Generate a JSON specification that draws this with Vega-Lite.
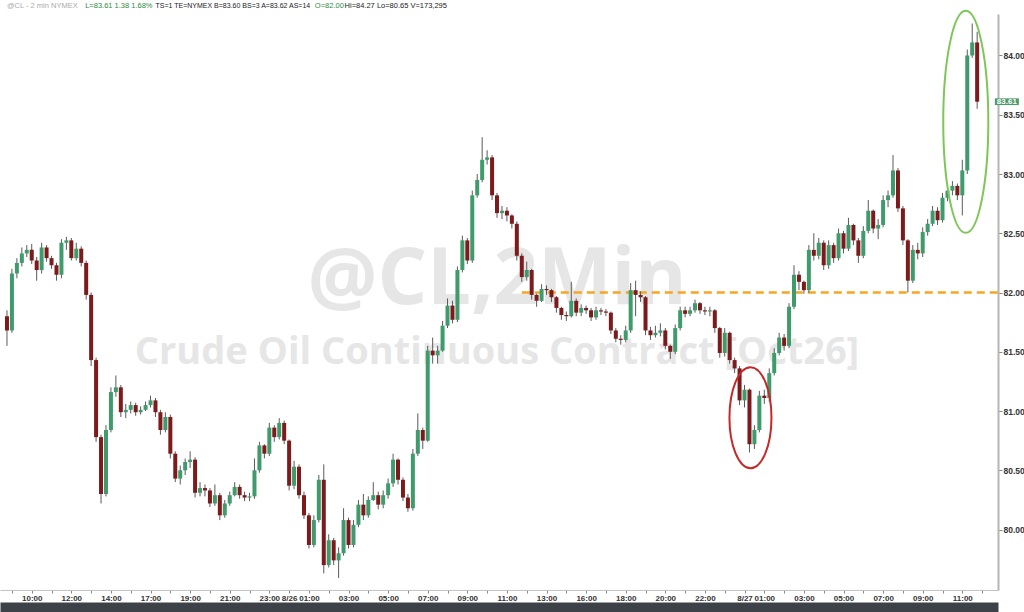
{
  "$schema": "https://vega.github.io/schema/vega-lite/v6.json",
  "width": 998,
  "height": 576,
  "autosize": {"type": "none"},
  "padding": {"left": 0, "top": 14, "right": 26, "bottom": 22},
  "background": "#ffffff",
  "config": {"view": {"stroke": null}, "font": "Liberation Sans"},
  "datasets": {
    "bars": [
      {"k":0,"o":81.80,"h":81.85,"l":81.55,"c":81.68},
      {"k":1,"o":81.68,"h":82.20,"l":81.66,"c":82.16},
      {"k":2,"o":82.16,"h":82.29,"l":82.12,"c":82.25},
      {"k":3,"o":82.25,"h":82.38,"l":82.22,"c":82.33},
      {"k":4,"o":82.33,"h":82.40,"l":82.30,"c":82.36},
      {"k":5,"o":82.36,"h":82.41,"l":82.24,"c":82.27},
      {"k":6,"o":82.27,"h":82.30,"l":82.10,"c":82.19},
      {"k":7,"o":82.19,"h":82.42,"l":82.16,"c":82.38},
      {"k":8,"o":82.38,"h":82.40,"l":82.26,"c":82.29},
      {"k":9,"o":82.29,"h":82.31,"l":82.20,"c":82.23},
      {"k":10,"o":82.23,"h":82.25,"l":82.10,"c":82.15},
      {"k":11,"o":82.15,"h":82.45,"l":82.12,"c":82.42},
      {"k":12,"o":82.42,"h":82.47,"l":82.36,"c":82.44},
      {"k":13,"o":82.44,"h":82.46,"l":82.27,"c":82.29},
      {"k":14,"o":82.29,"h":82.42,"l":82.27,"c":82.37},
      {"k":15,"o":82.37,"h":82.39,"l":82.22,"c":82.25},
      {"k":16,"o":82.25,"h":82.27,"l":81.94,"c":81.98},
      {"k":17,"o":81.98,"h":82.00,"l":81.38,"c":81.43},
      {"k":18,"o":81.43,"h":81.45,"l":80.74,"c":80.78},
      {"k":19,"o":80.78,"h":80.80,"l":80.22,"c":80.30},
      {"k":20,"o":80.30,"h":80.88,"l":80.28,"c":80.84},
      {"k":21,"o":80.84,"h":81.20,"l":80.82,"c":81.16},
      {"k":22,"o":81.16,"h":81.30,"l":81.12,"c":81.20},
      {"k":23,"o":81.20,"h":81.22,"l":80.95,"c":80.99},
      {"k":24,"o":80.99,"h":81.06,"l":80.94,"c":81.01},
      {"k":25,"o":81.01,"h":81.08,"l":80.98,"c":81.05},
      {"k":26,"o":81.05,"h":81.07,"l":80.96,"c":80.99},
      {"k":27,"o":80.99,"h":81.04,"l":80.97,"c":81.01},
      {"k":28,"o":81.01,"h":81.08,"l":81.00,"c":81.05},
      {"k":29,"o":81.05,"h":81.13,"l":81.03,"c":81.09},
      {"k":30,"o":81.09,"h":81.11,"l":80.95,"c":80.99},
      {"k":31,"o":80.99,"h":81.01,"l":80.80,"c":80.84},
      {"k":32,"o":80.84,"h":80.99,"l":80.82,"c":80.95},
      {"k":33,"o":80.95,"h":80.97,"l":80.60,"c":80.64},
      {"k":34,"o":80.64,"h":80.66,"l":80.40,"c":80.43},
      {"k":35,"o":80.43,"h":80.54,"l":80.38,"c":80.50},
      {"k":36,"o":80.50,"h":80.60,"l":80.46,"c":80.57},
      {"k":37,"o":80.57,"h":80.66,"l":80.52,"c":80.59},
      {"k":38,"o":80.59,"h":80.61,"l":80.27,"c":80.31},
      {"k":39,"o":80.31,"h":80.40,"l":80.28,"c":80.35},
      {"k":40,"o":80.35,"h":80.38,"l":80.28,"c":80.33},
      {"k":41,"o":80.33,"h":80.35,"l":80.19,"c":80.22},
      {"k":42,"o":80.22,"h":80.38,"l":80.20,"c":80.29},
      {"k":43,"o":80.29,"h":80.31,"l":80.08,"c":80.12},
      {"k":44,"o":80.12,"h":80.25,"l":80.10,"c":80.22},
      {"k":45,"o":80.22,"h":80.32,"l":80.20,"c":80.29},
      {"k":46,"o":80.29,"h":80.40,"l":80.28,"c":80.36},
      {"k":47,"o":80.36,"h":80.38,"l":80.26,"c":80.29},
      {"k":48,"o":80.29,"h":80.32,"l":80.24,"c":80.27},
      {"k":49,"o":80.27,"h":80.31,"l":80.24,"c":80.28},
      {"k":50,"o":80.28,"h":80.60,"l":80.26,"c":80.50},
      {"k":51,"o":80.50,"h":80.74,"l":80.48,"c":80.71},
      {"k":52,"o":80.71,"h":80.72,"l":80.60,"c":80.64},
      {"k":53,"o":80.64,"h":80.90,"l":80.62,"c":80.86},
      {"k":54,"o":80.86,"h":80.88,"l":80.74,"c":80.78},
      {"k":55,"o":80.78,"h":80.94,"l":80.76,"c":80.90},
      {"k":56,"o":80.90,"h":80.92,"l":80.72,"c":80.75},
      {"k":57,"o":80.75,"h":80.76,"l":80.33,"c":80.37},
      {"k":58,"o":80.37,"h":80.58,"l":80.34,"c":80.53},
      {"k":59,"o":80.53,"h":80.55,"l":80.26,"c":80.29},
      {"k":60,"o":80.29,"h":80.32,"l":80.09,"c":80.12},
      {"k":61,"o":80.12,"h":80.14,"l":79.84,"c":79.87},
      {"k":62,"o":79.87,"h":80.12,"l":79.85,"c":80.08},
      {"k":63,"o":80.08,"h":80.46,"l":80.06,"c":80.42},
      {"k":64,"o":80.42,"h":80.55,"l":79.63,"c":79.70},
      {"k":65,"o":79.70,"h":79.96,"l":79.68,"c":79.91},
      {"k":66,"o":79.91,"h":79.93,"l":79.70,"c":79.74},
      {"k":67,"o":79.74,"h":79.85,"l":79.59,"c":79.80},
      {"k":68,"o":79.80,"h":80.18,"l":79.78,"c":80.08},
      {"k":69,"o":80.08,"h":80.10,"l":79.84,"c":79.87},
      {"k":70,"o":79.87,"h":80.08,"l":79.85,"c":80.04},
      {"k":71,"o":80.04,"h":80.25,"l":80.02,"c":80.21},
      {"k":72,"o":80.21,"h":80.30,"l":80.08,"c":80.12},
      {"k":73,"o":80.12,"h":80.28,"l":80.10,"c":80.25},
      {"k":74,"o":80.25,"h":80.40,"l":80.24,"c":80.29},
      {"k":75,"o":80.29,"h":80.32,"l":80.17,"c":80.21},
      {"k":76,"o":80.21,"h":80.33,"l":80.18,"c":80.29},
      {"k":77,"o":80.29,"h":80.43,"l":80.26,"c":80.39},
      {"k":78,"o":80.39,"h":80.64,"l":80.36,"c":80.59},
      {"k":79,"o":80.59,"h":80.60,"l":80.38,"c":80.42},
      {"k":80,"o":80.42,"h":80.44,"l":80.24,"c":80.27},
      {"k":81,"o":80.27,"h":80.30,"l":80.15,"c":80.18},
      {"k":82,"o":80.18,"h":80.68,"l":80.16,"c":80.64},
      {"k":83,"o":80.64,"h":80.98,"l":80.62,"c":80.84},
      {"k":84,"o":80.84,"h":80.86,"l":80.68,"c":80.75},
      {"k":85,"o":80.75,"h":81.55,"l":80.74,"c":81.51},
      {"k":86,"o":81.51,"h":81.62,"l":81.40,"c":81.47},
      {"k":87,"o":81.47,"h":81.55,"l":81.40,"c":81.51},
      {"k":88,"o":81.51,"h":81.76,"l":81.50,"c":81.72},
      {"k":89,"o":81.72,"h":81.95,"l":81.70,"c":81.89},
      {"k":90,"o":81.89,"h":81.93,"l":81.74,"c":81.77},
      {"k":91,"o":81.77,"h":82.22,"l":81.75,"c":82.19},
      {"k":92,"o":82.19,"h":82.48,"l":82.17,"c":82.44},
      {"k":93,"o":82.44,"h":82.46,"l":82.24,"c":82.27},
      {"k":94,"o":82.27,"h":82.86,"l":82.25,"c":82.82},
      {"k":95,"o":82.82,"h":83.00,"l":82.80,"c":82.95},
      {"k":96,"o":82.95,"h":83.31,"l":82.93,"c":83.12},
      {"k":97,"o":83.12,"h":83.20,"l":83.08,"c":83.14},
      {"k":98,"o":83.14,"h":83.16,"l":82.78,"c":82.82},
      {"k":99,"o":82.82,"h":82.84,"l":82.63,"c":82.67},
      {"k":100,"o":82.67,"h":82.73,"l":82.62,"c":82.69},
      {"k":101,"o":82.69,"h":82.72,"l":82.60,"c":82.65},
      {"k":102,"o":82.65,"h":82.66,"l":82.54,"c":82.58},
      {"k":103,"o":82.58,"h":82.60,"l":82.27,"c":82.31},
      {"k":104,"o":82.31,"h":82.33,"l":82.09,"c":82.13},
      {"k":105,"o":82.13,"h":82.26,"l":82.10,"c":82.19},
      {"k":106,"o":82.19,"h":82.20,"l":81.94,"c":81.98},
      {"k":107,"o":81.98,"h":81.99,"l":81.88,"c":81.93},
      {"k":108,"o":81.93,"h":82.07,"l":81.92,"c":82.03},
      {"k":109,"o":82.03,"h":82.06,"l":81.98,"c":82.02},
      {"k":110,"o":82.02,"h":82.03,"l":81.92,"c":81.96},
      {"k":111,"o":81.96,"h":81.97,"l":81.83,"c":81.87},
      {"k":112,"o":81.87,"h":81.88,"l":81.77,"c":81.81},
      {"k":113,"o":81.81,"h":81.84,"l":81.76,"c":81.80},
      {"k":114,"o":81.80,"h":82.09,"l":81.79,"c":81.93},
      {"k":115,"o":81.93,"h":81.95,"l":81.80,"c":81.83},
      {"k":116,"o":81.83,"h":81.90,"l":81.80,"c":81.87},
      {"k":117,"o":81.87,"h":81.89,"l":81.82,"c":81.85},
      {"k":118,"o":81.85,"h":81.87,"l":81.76,"c":81.79},
      {"k":119,"o":81.79,"h":81.88,"l":81.77,"c":81.85},
      {"k":120,"o":81.85,"h":81.87,"l":81.81,"c":81.84},
      {"k":121,"o":81.84,"h":81.86,"l":81.80,"c":81.83},
      {"k":122,"o":81.83,"h":81.84,"l":81.65,"c":81.68},
      {"k":123,"o":81.68,"h":81.70,"l":81.58,"c":81.61},
      {"k":124,"o":81.61,"h":81.64,"l":81.56,"c":81.60},
      {"k":125,"o":81.60,"h":81.72,"l":81.58,"c":81.68},
      {"k":126,"o":81.68,"h":82.08,"l":81.66,"c":82.02},
      {"k":127,"o":82.02,"h":82.10,"l":81.80,"c":81.98},
      {"k":128,"o":81.98,"h":82.01,"l":81.92,"c":81.96},
      {"k":129,"o":81.96,"h":81.97,"l":81.64,"c":81.68},
      {"k":130,"o":81.68,"h":81.71,"l":81.60,"c":81.64},
      {"k":131,"o":81.64,"h":81.72,"l":81.62,"c":81.66},
      {"k":132,"o":81.66,"h":81.74,"l":81.63,"c":81.68},
      {"k":133,"o":81.68,"h":81.70,"l":81.52,"c":81.55},
      {"k":134,"o":81.55,"h":81.56,"l":81.44,"c":81.50},
      {"k":135,"o":81.50,"h":81.73,"l":81.48,"c":81.70},
      {"k":136,"o":81.70,"h":81.88,"l":81.68,"c":81.85},
      {"k":137,"o":81.85,"h":81.88,"l":81.79,"c":81.82},
      {"k":138,"o":81.82,"h":81.88,"l":81.80,"c":81.85},
      {"k":139,"o":81.85,"h":81.94,"l":81.83,"c":81.91},
      {"k":140,"o":81.91,"h":81.92,"l":81.82,"c":81.85},
      {"k":141,"o":81.85,"h":81.88,"l":81.81,"c":81.84},
      {"k":142,"o":81.84,"h":81.88,"l":81.80,"c":81.85},
      {"k":143,"o":81.85,"h":81.86,"l":81.66,"c":81.70},
      {"k":144,"o":81.70,"h":81.71,"l":81.45,"c":81.49},
      {"k":145,"o":81.49,"h":81.70,"l":81.46,"c":81.66},
      {"k":146,"o":81.66,"h":81.67,"l":81.40,"c":81.43},
      {"k":147,"o":81.43,"h":81.45,"l":81.32,"c":81.36},
      {"k":148,"o":81.36,"h":81.38,"l":81.05,"c":81.09},
      {"k":149,"o":81.09,"h":81.22,"l":81.03,"c":81.18},
      {"k":150,"o":81.18,"h":81.19,"l":80.65,"c":80.72},
      {"k":151,"o":80.72,"h":80.88,"l":80.68,"c":80.84},
      {"k":152,"o":80.84,"h":81.17,"l":80.82,"c":81.13},
      {"k":153,"o":81.13,"h":81.18,"l":81.06,"c":81.11},
      {"k":154,"o":81.11,"h":81.36,"l":81.08,"c":81.32},
      {"k":155,"o":81.32,"h":81.53,"l":81.30,"c":81.49},
      {"k":156,"o":81.49,"h":81.66,"l":81.47,"c":81.62},
      {"k":157,"o":81.62,"h":81.65,"l":81.51,"c":81.55},
      {"k":158,"o":81.55,"h":81.91,"l":81.53,"c":81.88},
      {"k":159,"o":81.88,"h":82.23,"l":81.86,"c":82.15},
      {"k":160,"o":82.15,"h":82.18,"l":82.02,"c":82.09},
      {"k":161,"o":82.09,"h":82.10,"l":81.99,"c":82.02},
      {"k":162,"o":82.02,"h":82.40,"l":82.00,"c":82.36},
      {"k":163,"o":82.36,"h":82.50,"l":82.27,"c":82.31},
      {"k":164,"o":82.31,"h":82.46,"l":82.28,"c":82.42},
      {"k":165,"o":82.42,"h":82.44,"l":82.19,"c":82.23},
      {"k":166,"o":82.23,"h":82.44,"l":82.20,"c":82.40},
      {"k":167,"o":82.40,"h":82.42,"l":82.25,"c":82.29},
      {"k":168,"o":82.29,"h":82.54,"l":82.27,"c":82.50},
      {"k":169,"o":82.50,"h":82.52,"l":82.33,"c":82.37},
      {"k":170,"o":82.37,"h":82.63,"l":82.35,"c":82.57},
      {"k":171,"o":82.57,"h":82.58,"l":82.40,"c":82.44},
      {"k":172,"o":82.44,"h":82.46,"l":82.25,"c":82.31},
      {"k":173,"o":82.31,"h":82.56,"l":82.29,"c":82.52},
      {"k":174,"o":82.52,"h":82.78,"l":82.50,"c":82.69},
      {"k":175,"o":82.69,"h":82.70,"l":82.50,"c":82.54},
      {"k":176,"o":82.54,"h":82.62,"l":82.45,"c":82.57},
      {"k":177,"o":82.57,"h":82.82,"l":82.55,"c":82.78},
      {"k":178,"o":82.78,"h":82.86,"l":82.72,"c":82.82},
      {"k":179,"o":82.82,"h":83.16,"l":82.80,"c":83.03},
      {"k":180,"o":83.03,"h":83.05,"l":82.68,"c":82.71},
      {"k":181,"o":82.71,"h":82.73,"l":82.40,"c":82.44},
      {"k":182,"o":82.44,"h":82.45,"l":82.00,"c":82.10},
      {"k":183,"o":82.10,"h":82.40,"l":82.08,"c":82.36},
      {"k":184,"o":82.36,"h":82.42,"l":82.28,"c":82.33},
      {"k":185,"o":82.33,"h":82.55,"l":82.30,"c":82.51},
      {"k":186,"o":82.51,"h":82.62,"l":82.48,"c":82.58},
      {"k":187,"o":82.58,"h":82.73,"l":82.56,"c":82.69},
      {"k":188,"o":82.69,"h":82.72,"l":82.57,"c":82.61},
      {"k":189,"o":82.61,"h":82.84,"l":82.59,"c":82.80},
      {"k":190,"o":82.80,"h":82.92,"l":82.77,"c":82.86},
      {"k":191,"o":82.86,"h":82.94,"l":82.82,"c":82.90},
      {"k":192,"o":82.90,"h":82.92,"l":82.78,"c":82.82},
      {"k":193,"o":82.82,"h":83.12,"l":82.65,"c":83.03},
      {"k":194,"o":83.03,"h":84.05,"l":83.00,"c":84.00},
      {"k":195,"o":84.00,"h":84.27,"l":83.98,"c":84.11},
      {"k":196,"o":84.11,"h":84.20,"l":83.55,"c":83.61}
    ]
  },
  "resolve": {"axis": {"x": "independent"}},
  "layer": [
    {
      "data": {"values": [{"label": "@CL,2Min"}]},
      "mark": {"type": "text", "font": "Open Sans", "fontWeight": "bold", "fontSize": 78, "color": "#e6e6e6", "align": "center", "baseline": "middle"},
      "encoding": {
        "text": {"field": "label"},
        "x": {"datum": 99, "type": "quantitative", "scale": {"domain": [-0.4, 199.2], "nice": false, "zero": false}, "axis": null},
        "y": {"datum": 82.10, "type": "quantitative", "scale": {"domain": [79.49, 84.35], "nice": false, "zero": false},
          "axis": {"orient": "right", "values": [80, 80.5, 81, 81.5, 82, 82.5, 83, 83.5, 84], "format": ".2f", "tickSize": 4, "tickColor": "#888888", "domainColor": "#b5b5b5", "domainWidth": 2, "labelFontSize": 8.5, "labelFontWeight": "bold", "labelColor": "#333333", "labelPadding": 1, "grid": false, "title": null, "labelFont": "Liberation Sans"}}
      }
    },
    {
      "data": {"values": [{"label": "Crude Oil Continuous Contract [Oct26]"}]},
      "mark": {"type": "text", "font": "Open Sans", "fontWeight": "bold", "fontSize": 38, "color": "#e6e6e6", "align": "center", "baseline": "middle"},
      "encoding": {
        "text": {"field": "label"},
        "x": {"datum": 99, "type": "quantitative", "axis": null},
        "y": {"datum": 81.49, "type": "quantitative"}
      }
    },
    {
      "data": {"values": [{"level": 82.0}]},
      "mark": {"type": "rule", "color": "#f5a623", "strokeWidth": 2.5, "strokeDash": [8, 5]},
      "encoding": {
        "x": {"datum": 104, "type": "quantitative", "axis": null},
        "x2": {"datum": 200.2},
        "y": {"field": "level", "type": "quantitative"}
      }
    },
    {
      "data": {"name": "bars"},
      "mark": {"type": "rule", "color": "#5a5a5a", "strokeWidth": 1},
      "encoding": {
        "x": {"field": "k", "type": "quantitative",
          "axis": {"orient": "bottom", "offset": 17, "domainWidth": 10, "domainColor": "#3c4248", "ticks": false, "labels": false, "grid": false, "title": null}},
        "y": {"field": "l", "type": "quantitative"},
        "y2": {"field": "h"}
      }
    },
    {
      "data": {"name": "bars"},
      "mark": {"type": "bar", "size": 4},
      "encoding": {
        "x": {"field": "k", "type": "quantitative",
          "axis": {"orient": "bottom", "values": [1,5,9,13,17,21,25,29,33,37,41,45,49,53,57,61,65,69,73,77,81,85,89,93,97,101,105,109,113,117,121,125,129,133,137,141,145,149,153,157,161,165,169,173,177,181,185,189,193,197],
            "labelExpr": "indexof([5,13,21,29,37,45,53,57,61,69,77,85,93,101,109,117,125,133,141,149,153,161,169,177,185,193], datum.value) < 0 ? '' : ['10:00','12:00','14:00','17:00','19:00','21:00','23:00','8/26','01:00','03:00','05:00','07:00','09:00','11:00','13:00','16:00','18:00','20:00','22:00','8/27','01:00','03:00','05:00','07:00','09:00','11:00'][indexof([5,13,21,29,37,45,53,57,61,69,77,85,93,101,109,117,125,133,141,149,153,161,169,177,185,193], datum.value)]",
            "tickSize": 3, "tickColor": "#888888", "domainColor": "#c4c4c4", "domainWidth": 1, "labelFontSize": 8, "labelFontWeight": "bold", "labelColor": "#333333", "labelPadding": 1, "labelOverlap": false, "labelFlush": false, "grid": false, "title": null, "labelFont": "Liberation Sans"}},
        "y": {"field": "o", "type": "quantitative"},
        "y2": {"field": "c"},
        "color": {"condition": {"test": "datum.c >= datum.o", "value": "#3f9a6c"}, "value": "#7d1a1c"}
      }
    },
    {
      "data": {"values": [{"name": "dip"}]},
      "mark": {"type": "point", "shape": "M0,-1C0.23,-1,0.416,-0.552,0.416,0C0.416,0.552,0.23,1,0,1C-0.23,1,-0.416,0.552,-0.416,0C-0.416,-0.552,-0.23,-1,0,-1Z", "filled": false, "stroke": "#c62828", "strokeWidth": 2, "size": 10201, "opacity": 1},
      "encoding": {
        "x": {"datum": 150.2, "type": "quantitative", "axis": null},
        "y": {"datum": 80.944, "type": "quantitative"}
      }
    },
    {
      "data": {"values": [{"name": "spike"}]},
      "mark": {"type": "point", "shape": "M0,-1C0.112,-1,0.203,-0.552,0.203,0C0.203,0.552,0.112,1,0,1C-0.112,1,-0.203,0.552,-0.203,0C-0.203,-0.552,-0.112,-1,0,-1Z", "filled": false, "stroke": "#7dc657", "strokeWidth": 2, "size": 49284, "opacity": 1},
      "encoding": {
        "x": {"datum": 193.7, "type": "quantitative", "axis": null},
        "y": {"datum": 83.44, "type": "quantitative"}
      }
    },
    {
      "data": {"values": [{"last": 83.61}]},
      "mark": {"type": "point", "shape": "M-1,-0.28L1,-0.28L1,0.28L-1,0.28Z", "filled": true, "color": "#4f9a6c", "size": 576, "opacity": 1},
      "encoding": {
        "x": {"datum": 202.0, "type": "quantitative", "axis": null},
        "y": {"field": "last", "type": "quantitative"}
      }
    },
    {
      "data": {"values": [{"last": 83.61, "txt": "83.61"}]},
      "mark": {"type": "text", "color": "#ffffff", "fontSize": 8, "fontWeight": "bold", "align": "center", "baseline": "middle", "font": "Liberation Sans"},
      "encoding": {
        "x": {"datum": 202.0, "type": "quantitative", "axis": null},
        "y": {"field": "last", "type": "quantitative"},
        "text": {"field": "txt"}
      }
    },
    {
      "data": {"values": [{"txt": "@CL - 2 min  NYMEX"}]},
      "mark": {"type": "text", "color": "#aaaaaa", "fontSize": 7.5, "align": "left", "baseline": "middle", "font": "Liberation Sans"},
      "encoding": {
        "x": {"datum": 0, "type": "quantitative", "axis": null},
        "y": {"datum": 84.42, "type": "quantitative"},
        "text": {"field": "txt"}
      }
    },
    {
      "data": {"values": [{"txt": "L=83.61 1.38 1.68%"}]},
      "mark": {"type": "text", "color": "#2e8b3e", "fontSize": 7.5, "align": "left", "baseline": "middle", "font": "Liberation Sans"},
      "encoding": {
        "x": {"datum": 15.8, "type": "quantitative", "axis": null},
        "y": {"datum": 84.42, "type": "quantitative"},
        "text": {"field": "txt"}
      }
    },
    {
      "data": {"values": [{"txt": "TS=1 TE=NYMEX B=83.60 BS=3 A=83.62 AS=14"}]},
      "mark": {"type": "text", "color": "#222222", "fontSize": 7, "align": "left", "baseline": "middle", "font": "Liberation Sans"},
      "encoding": {
        "x": {"datum": 30.0, "type": "quantitative", "axis": null},
        "y": {"datum": 84.42, "type": "quantitative"},
        "text": {"field": "txt"}
      }
    },
    {
      "data": {"values": [{"txt": "O=82.00"}]},
      "mark": {"type": "text", "color": "#2e8b3e", "fontSize": 7.5, "align": "left", "baseline": "middle", "font": "Liberation Sans"},
      "encoding": {
        "x": {"datum": 62.2, "type": "quantitative", "axis": null},
        "y": {"datum": 84.42, "type": "quantitative"},
        "text": {"field": "txt"}
      }
    },
    {
      "data": {"values": [{"txt": "Hi=84.27   Lo=80.65   V=173,295"}]},
      "mark": {"type": "text", "color": "#222222", "fontSize": 7.5, "align": "left", "baseline": "middle", "font": "Liberation Sans"},
      "encoding": {
        "x": {"datum": 68.2, "type": "quantitative", "axis": null},
        "y": {"datum": 84.42, "type": "quantitative"},
        "text": {"field": "txt"}
      }
    }
  ]
}
